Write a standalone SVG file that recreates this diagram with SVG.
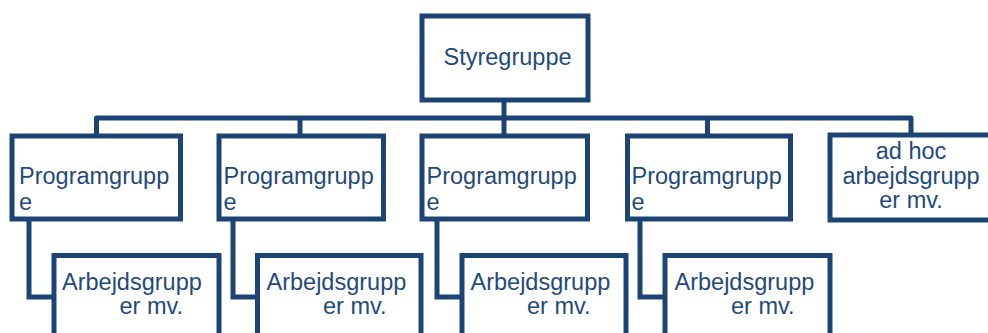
<svg xmlns="http://www.w3.org/2000/svg" width="988" height="333" viewBox="0 0 988 333">
<style>
.box{fill:#fff;stroke:#1d4474;stroke-width:5}
.con{fill:none;stroke:#1d4474;stroke-width:5}
text{font-family:"Liberation Sans",Arial,sans-serif;font-size:23.5px;fill:#1f4a7d}
.c{text-anchor:middle}
</style>
<rect width="988" height="333" fill="#fff"/>
<g id="connectors">
<path class="con" d="M504,100 V136"/>
<path class="con" d="M96.5,136 V118 H911 V135" stroke-linejoin="round"/>
<path class="con" d="M300,118 V136"/>
<path class="con" d="M707.5,118 V136"/>
<path class="con" d="M29,219 V297 H54"/>
<path class="con" d="M233,219 V297 H257.5"/>
<path class="con" d="M437,219 V297 H462"/>
<path class="con" d="M640,219 V297 H665"/>
</g>
<g id="styregruppe">
<rect class="box" x="422" y="16" width="166" height="84"/>
<text x="443.5" y="65">Styregruppe</text>
</g>
<g id="programgruppe1">
<rect class="box" x="12" y="136" width="168.5" height="83"/>
<text x="19" y="183.5">Programgrupp</text>
<text x="19" y="210">e</text>
</g>
<g id="programgruppe2">
<rect class="box" x="219" y="136" width="164.5" height="83"/>
<text x="223.5" y="183.5">Programgrupp</text>
<text x="223.5" y="210">e</text>
</g>
<g id="programgruppe3">
<rect class="box" x="422" y="136" width="165.5" height="83"/>
<text x="426.5" y="183.5">Programgrupp</text>
<text x="426.5" y="210">e</text>
</g>
<g id="programgruppe4">
<rect class="box" x="627.5" y="136" width="163" height="83"/>
<text x="631.5" y="183.5">Programgrupp</text>
<text x="631.5" y="210">e</text>
</g>
<g id="adhoc">
<rect class="box" x="830" y="135" width="162" height="85"/>
<text class="c" x="911" y="158.5">ad hoc</text>
<text class="c" x="911" y="183.5">arbejdsgrupp</text>
<text class="c" x="911" y="207.5">er mv.</text>
</g>
<g id="arbejdsgruppe1">
<rect class="box" x="54" y="255.5" width="165" height="100"/>
<text x="62" y="289.5">Arbejdsgrupp</text>
<text x="119.5" y="314">er mv.</text>
</g>
<g id="arbejdsgruppe2">
<rect class="box" x="257.5" y="255.5" width="163.5" height="100"/>
<text x="266.5" y="289.5">Arbejdsgrupp</text>
<text x="323" y="314">er mv.</text>
</g>
<g id="arbejdsgruppe3">
<rect class="box" x="462" y="255.5" width="164" height="100"/>
<text x="470.5" y="289.5">Arbejdsgrupp</text>
<text x="527" y="314">er mv.</text>
</g>
<g id="arbejdsgruppe4">
<rect class="box" x="665" y="255.5" width="165" height="100"/>
<text x="674.5" y="289.5">Arbejdsgrupp</text>
<text x="731" y="314">er mv.</text>
</g>
</svg>
